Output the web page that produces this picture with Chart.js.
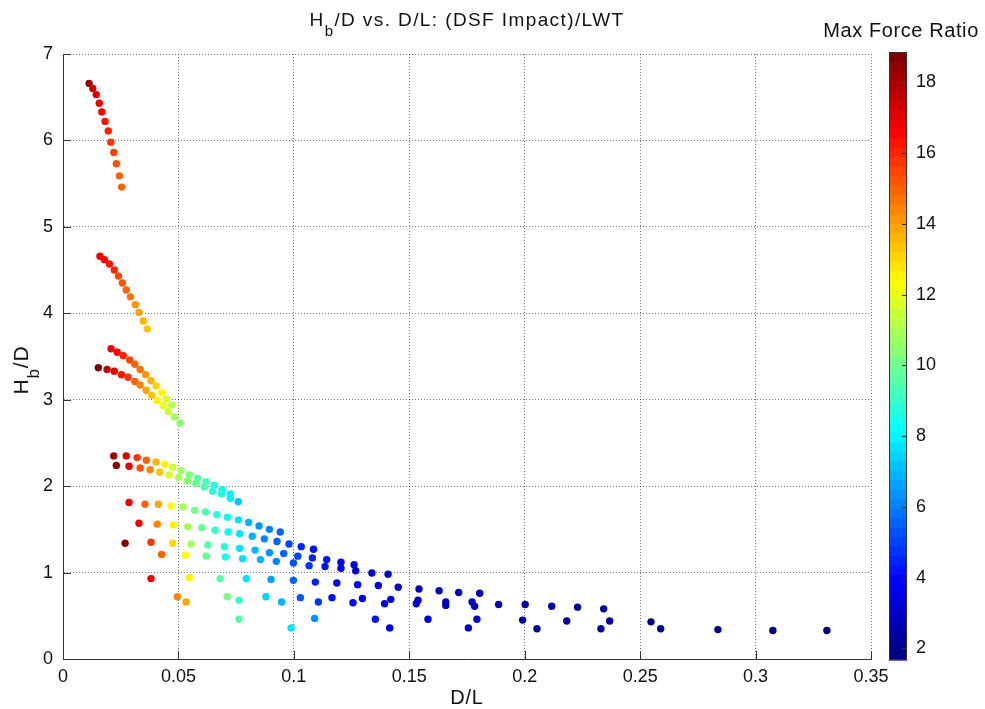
<!DOCTYPE html>
<html>
<head>
<meta charset="utf-8">
<script src="https://cdn.jsdelivr.net/npm/chart.js@4.4.1/dist/chart.umd.min.js"></script>
<style>
  html, body { margin: 0; padding: 0; background: #fff; }
  canvas { display: block; }
</style>
</head>
<body>
<canvas id="chart" width="985" height="709"></canvas>
<script>
// ---- measured runs: D/L, Hb/D and max force ratio (DSF impact / LWT) ----
const dlA = [0.0113,0.0129,0.0144,0.0157,0.0168,0.0182,0.0196,0.0207,0.0220,0.0231,0.0244,0.0254];
const hbA = [6.66,6.60,6.53,6.43,6.33,6.22,6.11,5.98,5.86,5.73,5.59,5.46];
const frA = [18.0,17.4,17.0,16.7,16.4,16.2,16.0,15.8,15.5,15.3,15.0,14.8];

const dlB = [0.0160,0.0179,0.0201,0.0222,0.0240,0.0257,0.0274,0.0292,0.0313,0.0329,0.0348,0.0365];
const hbB = [4.66,4.62,4.57,4.50,4.43,4.35,4.27,4.19,4.10,4.01,3.91,3.82];
const frB = [16.9,16.6,16.2,15.9,15.5,15.2,14.9,14.6,14.2,13.9,13.6,13.3];

const dlC1 = [0.0208,0.0235,0.0261,0.0289,0.0311,0.0334,0.0358,0.0381,0.0403,0.0427,0.0447,0.0471];
const hbC1 = [3.59,3.55,3.51,3.46,3.41,3.35,3.29,3.22,3.16,3.08,3.01,2.94];
const frC1 = [16.9,16.5,16.0,15.5,15.0,14.6,14.1,13.6,13.0,12.4,11.8,11.2];

const dlC2 = [0.0153,0.0191,0.0222,0.0253,0.0282,0.0311,0.0334,0.0360,0.0384,0.0408,0.0434,0.0456,0.0482,0.0507];
const hbC2 = [3.37,3.35,3.33,3.29,3.26,3.21,3.17,3.11,3.05,2.99,2.93,2.86,2.80,2.73];
const frC2 = [18.6,17.6,17.0,16.3,15.6,15.0,14.4,13.8,13.2,12.6,12.0,11.4,10.9,10.4];

const dlD1 = [0.0220,0.0274,0.0321,0.0361,0.0403,0.0441,0.0475,0.0511,0.0547,0.0583,0.0619,0.0654,0.0689,0.0725];
const hbD1 = [2.35,2.35,2.33,2.30,2.28,2.25,2.22,2.18,2.13,2.09,2.05,2.01,1.96,1.91];
const frD1 = [18.2,17.0,15.8,14.8,13.7,12.6,11.5,10.7,10.1,9.6,9.2,8.8,8.3,7.9];

const dlD2 = [0.0231,0.0286,0.0334,0.0377,0.0419,0.0459,0.0501,0.0539,0.0575,0.0612,0.0648,0.0686,0.0725,0.0759];
const hbD2 = [2.24,2.23,2.21,2.19,2.16,2.13,2.10,2.06,2.03,1.99,1.94,1.91,1.86,1.82];
const frD2 = [18.5,17.0,15.3,14.3,13.3,11.8,10.9,10.3,9.8,9.3,8.9,8.4,8.0,7.3];

const dlE1 = [0.0286,0.0355,0.0413,0.0468,0.0520,0.0570,0.0617,0.0666,0.0712,0.0760,0.0804,0.0849,0.0894,0.0941];
const hbE1 = [1.81,1.79,1.79,1.77,1.76,1.72,1.70,1.67,1.64,1.61,1.58,1.54,1.50,1.47];
const frE1 = [16.8,15.0,13.8,12.3,11.0,10.0,9.3,8.8,8.2,7.6,6.9,6.4,6.0,5.5];

const dlE2 = [0.0329,0.0408,0.0478,0.0540,0.0601,0.0658,0.0715,0.0765,0.0820,0.0872,0.0927,0.0979,0.1032,0.1085];
const hbE2 = [1.57,1.56,1.55,1.53,1.52,1.49,1.47,1.45,1.42,1.39,1.36,1.33,1.30,1.27];
const frE2 = [16.8,14.4,12.4,11.0,9.8,9.0,8.3,7.6,6.8,6.2,5.6,5.0,4.6,4.3];

const dlE3 = [0.0269,0.0381,0.0475,0.0554,0.0627,0.0699,0.0765,0.0832,0.0894,0.0956,0.1017,0.1080,0.1142,0.1204,0.1261];
const hbE3 = [1.34,1.35,1.34,1.33,1.32,1.30,1.28,1.26,1.23,1.22,1.19,1.17,1.15,1.12,1.09];
const frE3 = [18.7,15.6,13.0,11.0,9.5,8.7,7.8,7.0,6.3,5.6,5.0,4.6,4.2,3.9,3.6];

const dlE4 = [0.0427,0.0530,0.0620,0.0703,0.0778,0.0855,0.0924,0.0998,0.1066,0.1135,0.1204,0.1268,0.1338,0.1408];
const hbE4 = [1.21,1.20,1.19,1.18,1.16,1.15,1.13,1.11,1.08,1.07,1.05,1.02,0.995,0.98];
const frE4 = [14.8,12.3,9.9,8.6,7.7,6.8,6.0,5.3,4.8,4.3,3.9,3.5,3.3,3.1];

const dlE5 = [0.0381,0.0547,0.0680,0.0794,0.0901,0.0998,0.1093,0.1186,0.1276,0.1366,0.1452,0.1542,0.1629,0.1714,0.1805];
const hbE5 = [0.93,0.94,0.93,0.93,0.92,0.91,0.89,0.88,0.86,0.85,0.83,0.81,0.79,0.77,0.76];
const frE5 = [16.8,12.5,9.5,7.8,6.7,5.6,4.6,4.1,3.7,3.4,3.2,3.0,2.9,2.8,2.7];

const dlE6 = [0.0495,0.0533,0.0711,0.0762,0.0879,0.0947,0.1028,0.1106,0.1165,0.1256,0.1297,0.1393,0.1420,0.1530,0.1538,0.1658,0.1658,0.1772,0.1783,0.1887,0.2002,0.2117,0.2229,0.2342];
const hbE6 = [0.72,0.66,0.72,0.68,0.72,0.66,0.71,0.66,0.71,0.65,0.70,0.64,0.69,0.64,0.68,0.66,0.62,0.66,0.61,0.63,0.63,0.61,0.60,0.58];
const frE6 = [14.3,13.9,10.0,9.0,7.5,6.8,5.4,4.8,4.3,3.9,3.7,3.5,3.4,3.1,3.1,2.9,2.9,2.8,2.8,2.7,2.6,2.5,2.5,2.4];

const dlE7 = [0.0762,0.0988,0.1090,0.1353,0.1415,0.1581,0.1756,0.1793,0.1991,0.2053,0.2182,0.2330,0.2368,0.2547,0.2589,0.2837,0.3075,0.3309];
const hbE7 = [0.46,0.36,0.47,0.46,0.36,0.46,0.36,0.46,0.45,0.35,0.44,0.35,0.44,0.43,0.35,0.34,0.33,0.33];
const frE7 = [9.6,7.6,6.5,4.3,3.8,3.5,3.2,3.2,2.6,2.5,2.4,2.3,2.3,2.2,2.1,2.0,1.9,1.8];

// ---- axis ticks and colour limits ----
const xTicks = [0, 0.05, 0.1, 0.15, 0.2, 0.25, 0.3, 0.35];
const yTicks = [0, 1, 2, 3, 4, 5, 6, 7];
const cbTicks = [2, 4, 6, 8, 10, 12, 14, 16, 18];
const cMin = 1.7, cMax = 18.8;

const families = [
  [dlA, hbA, frA], [dlB, hbB, frB], [dlC1, hbC1, frC1], [dlC2, hbC2, frC2],
  [dlD1, hbD1, frD1], [dlD2, hbD2, frD2], [dlE1, hbE1, frE1], [dlE2, hbE2, frE2],
  [dlE3, hbE3, frE3], [dlE4, hbE4, frE4], [dlE5, hbE5, frE5], [dlE6, hbE6, frE6],
  [dlE7, hbE7, frE7]
];

// jet colormap, 64 levels
const NC = 64;
function clamp01(v) { return Math.max(0, Math.min(1, v)); }
function jet(t) {
  const r = clamp01(Math.min(4 * t - 1.5, -4 * t + 4.5));
  const g = clamp01(Math.min(4 * t - 0.5, -4 * t + 3.5));
  const b = clamp01(Math.min(4 * t + 0.5, -4 * t + 2.5));
  return `rgb(${Math.round(r * 255)},${Math.round(g * 255)},${Math.round(b * 255)})`;
}
function colorFor(v) {
  let k = Math.floor((v - cMin) / (cMax - cMin) * NC);
  k = Math.max(0, Math.min(NC - 1, k));
  return jet(k / (NC - 1));
}

const points = [], colors = [];
families.forEach(([xs, ys, fs]) => {
  xs.forEach((x, i) => {
    points.push({ x: x, y: ys[i] });
    colors.push(colorFor(fs[i]));
  });
});

const FONT = "'Liberation Sans', Arial, Helvetica, sans-serif";
const TXT = '#111';

// text with a subscript part, e.g. H_b/D, centred on the current origin
function drawSubText(ctx, parts, size, spacing) {
  const subSize = Math.round(size * 0.8);
  ctx.letterSpacing = spacing + 'px';
  let w = 0;
  parts.forEach(p => {
    ctx.font = `${p.sub ? subSize : size}px ${FONT}`;
    p.w = ctx.measureText(p.t).width;
    w += p.w;
  });
  let x = -w / 2;
  parts.forEach(p => {
    ctx.font = `${p.sub ? subSize : size}px ${FONT}`;
    ctx.fillText(p.t, x, p.sub ? size * 0.5 : 0);
    x += p.w;
  });
}

const decor = {
  id: 'decor',
  afterDraw(chart) {
    const { ctx, chartArea: a, scales } = chart;
    ctx.save();
    // inward tick marks
    ctx.strokeStyle = '#333';
    ctx.lineWidth = 1;
    ctx.beginPath();
    scales.x.ticks.forEach(t => {
      const px = Math.round(scales.x.getPixelForValue(t.value)) + 0.5;
      ctx.moveTo(px, a.bottom); ctx.lineTo(px, a.bottom - 8);
    });
    scales.y.ticks.forEach(t => {
      const py = Math.round(scales.y.getPixelForValue(t.value)) + 0.5;
      ctx.moveTo(a.left, py); ctx.lineTo(a.left + 8, py);
    });
    ctx.stroke();

    // colour bar
    const cs = scales.c;
    const bx = a.right + 18, bw = 18;
    const yTop = cs.getPixelForValue(cMax) - 2, yBot = cs.getPixelForValue(cMin) + 1;
    const h = yBot - yTop;
    for (let k = 0; k < NC; k++) {
      const y1 = yBot - h * k / NC, y2 = yBot - h * (k + 1) / NC;
      ctx.fillStyle = jet(k / (NC - 1));
      ctx.fillRect(bx, y2, bw, y1 - y2 + 0.6);
    }
    ctx.strokeStyle = '#333';
    ctx.strokeRect(bx + 0.5, Math.round(yTop) + 0.5, bw - 1, Math.round(h) - 1);
    ctx.beginPath();
    cbTicks.forEach(v => {
      const py = Math.round(cs.getPixelForValue(v)) + 0.5;
      ctx.moveTo(bx + bw - 5, py); ctx.lineTo(bx + bw, py);
    });
    ctx.stroke();

    // titles
    ctx.fillStyle = TXT;
    ctx.textBaseline = 'alphabetic';
    ctx.textAlign = 'left';
    ctx.save();
    ctx.translate((a.left + a.right) / 2, 26);
    drawSubText(ctx, [{ t: 'H' }, { t: 'b', sub: true }, { t: '/D vs. D/L: (DSF Impact)/LWT' }], 19, 1.4);
    ctx.restore();

    ctx.save();
    ctx.translate(28, 370);
    ctx.rotate(-Math.PI / 2);
    drawSubText(ctx, [{ t: 'H' }, { t: 'b', sub: true }, { t: '/D' }], 21, 0.8);
    ctx.restore();

    ctx.save();
    ctx.translate((a.left + a.right) / 2, 704);
    drawSubText(ctx, [{ t: 'D/L' }], 20, 0.8);
    ctx.restore();

    ctx.save();
    ctx.translate(bx + bw / 2 + 3, 37);
    drawSubText(ctx, [{ t: 'Max Force Ratio' }], 20, 0.6);
    ctx.restore();
    ctx.restore();
  }
};

const gridOpts = { color: 'rgba(0,0,0,0.55)', drawTicks: false, lineWidth: 1 };
const borderOpts = { display: true, color: '#333', width: 1, dash: [1, 2] };

// fixed plot box: the scales' own label overhang must not move the chart area
function noOverhang(s) { s.paddingTop = 0; s.paddingBottom = 0; }

new Chart(document.getElementById('chart'), {
  type: 'scatter',
  data: {
    datasets: [{
      data: points,
      pointBackgroundColor: colors,
      pointBorderWidth: 0,
      pointRadius: 3.7,
      pointHoverRadius: 3.7
    }]
  },
  options: {
    responsive: false,
    animation: false,
    events: [],
    layout: { padding: { top: 54, left: 0, right: 0, bottom: 0 } },
    plugins: { legend: { display: false }, tooltip: { enabled: false }, title: { display: false } },
    scales: {
      x: {
        type: 'linear', min: 0, max: 0.35,
        afterBuildTicks: s => { s.ticks = xTicks.map(v => ({ value: v })); },
        afterFit: s => { s.height = 50; s.paddingLeft = 0; s.paddingRight = 0; },
        grid: gridOpts, border: borderOpts,
        ticks: { padding: 7, color: TXT, font: { family: FONT, size: 18 }, maxRotation: 0,
                 callback: v => String(+v.toFixed(2)) }
      },
      y: {
        type: 'linear', min: 0, max: 7,
        afterBuildTicks: s => { s.ticks = yTicks.map(v => ({ value: v })); },
        afterFit: s => { s.width = 63; noOverhang(s); },
        grid: gridOpts, border: borderOpts,
        ticks: { padding: 10, color: TXT, font: { family: FONT, size: 18 } }
      },
      c: {
        type: 'linear', position: 'right', min: cMin, max: cMax,
        afterBuildTicks: s => { s.ticks = cbTicks.map(v => ({ value: v })); },
        afterFit: s => { s.width = 114; noOverhang(s); },
        grid: { display: false, drawTicks: false }, border: { display: false },
        ticks: { padding: 45, color: TXT, font: { family: FONT, size: 18 } }
      }
    }
  },
  plugins: [decor]
});
</script>
</body>
</html>
